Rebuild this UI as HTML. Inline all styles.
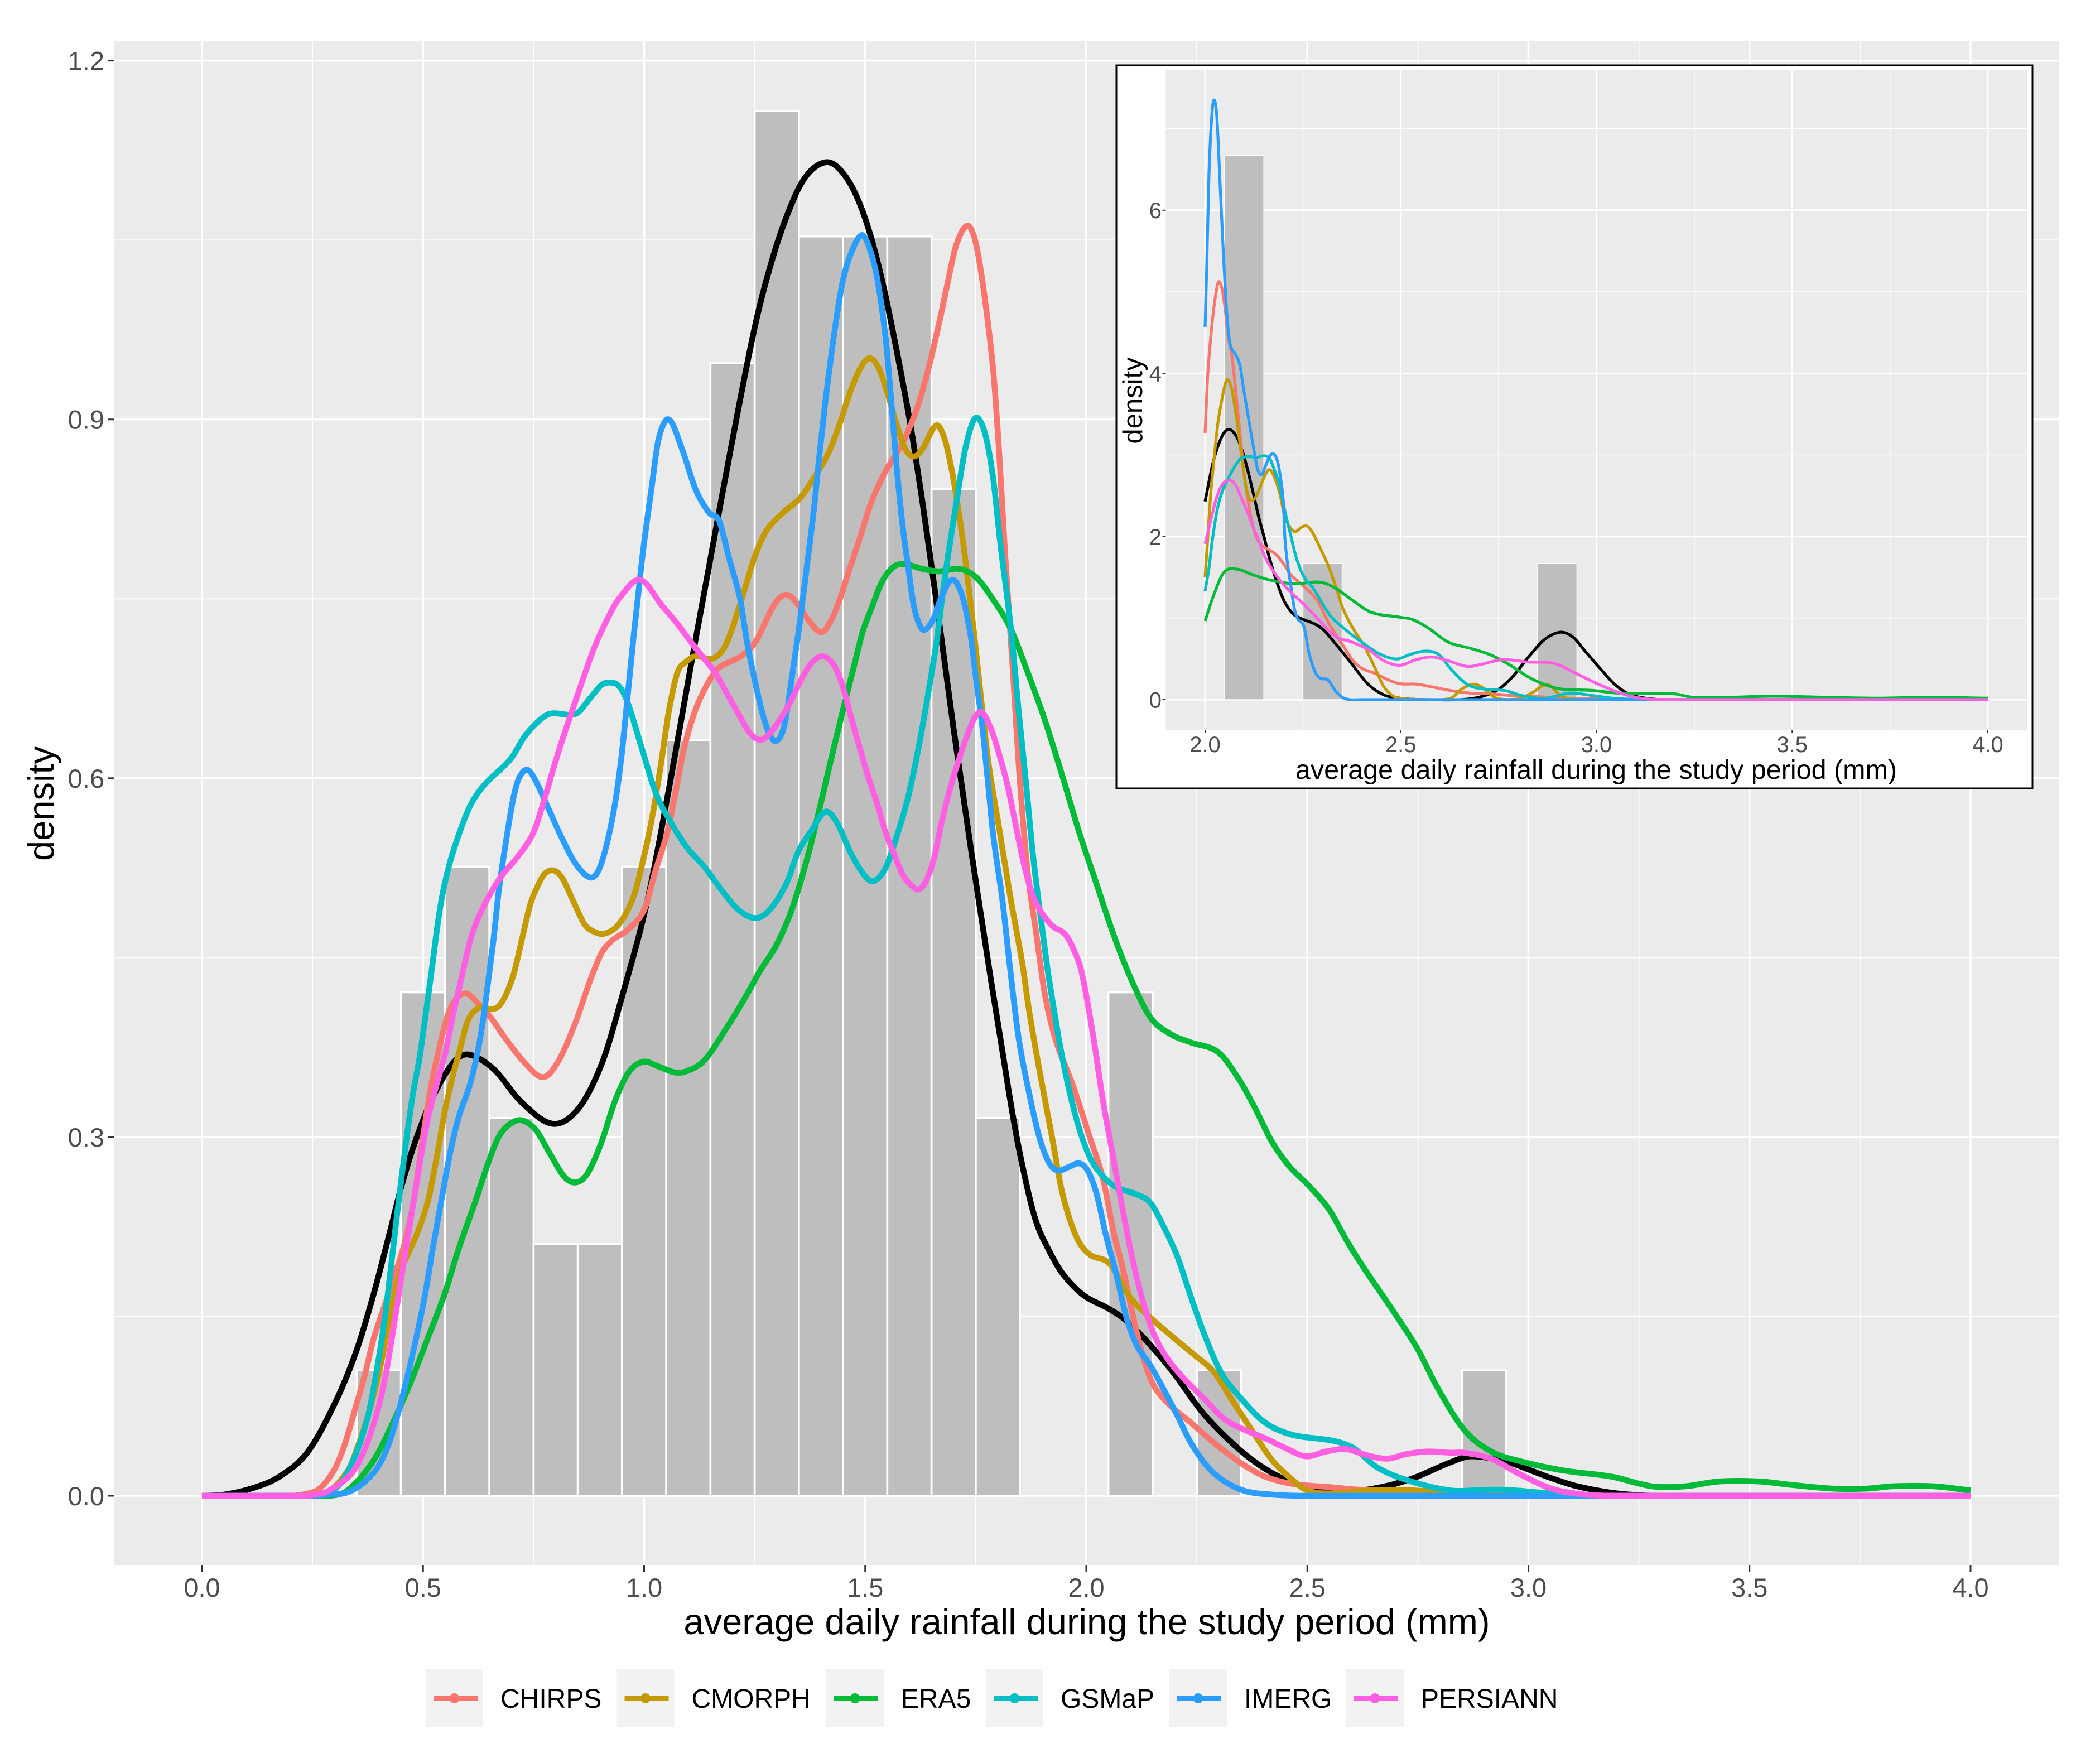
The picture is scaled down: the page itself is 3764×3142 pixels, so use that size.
<!DOCTYPE html>
<html>
<head>
<meta charset="utf-8">
<title>Density of average daily rainfall</title>
<style>
html,body{margin:0;padding:0;background:#fff;}
svg{display:block;}
text{font-family:"Liberation Sans",Arial,sans-serif;}
</style>
</head>
<body>
<svg id="chart" xmlns="http://www.w3.org/2000/svg" width="3764" height="3142" viewBox="0 0 3764 3142">
  <rect x="0" y="0" width="3764" height="3142" fill="#fff"/>
  <g id="main-plot"></g>
  <text x="1948" y="2929" font-size="65" text-anchor="middle" fill="#000">average daily rainfall during the study period (mm)</text>
  <text transform="translate(96,1440) rotate(-90)" font-size="65" text-anchor="middle" fill="#000">density</text>
  <rect x="2001" y="117" width="1642" height="1296" fill="#fff" stroke="#000" stroke-width="3"/>
  <g id="inset-plot"></g>
  <text x="2861" y="1396" font-size="48.5" text-anchor="middle" fill="#000">average daily rainfall during the study period (mm)</text>
  <text transform="translate(2047,718) rotate(-90)" font-size="49" text-anchor="middle" fill="#000">density</text>
  <g id="legend"></g>
</svg>
<script>
// ---------- shared categories ----------
const seriesNames = ['CHIRPS','CMORPH','ERA5','GSMaP','IMERG','PERSIANN'];

// ---------- main chart: histogram ----------
const mainBinCenters = [0.4,0.5,0.6,0.7,0.8,0.9,1.0,1.1,1.2,1.3,1.4,1.5,1.6,1.7,1.8,2.1,2.3,2.9];
const mainBinDensity = [0.105,0.421,0.526,0.316,0.2105,0.2105,0.526,0.632,0.947,1.158,1.053,1.053,1.053,0.842,0.316,0.421,0.105,0.105];
const mainXTickLabels = ['0.0','0.5','1.0','1.5','2.0','2.5','3.0','3.5','4.0'];
const mainYTickLabels = ['0.0','0.3','0.6','0.9','1.2'];
const mainXMinor = [0.25,0.75,1.25,1.75,2.25,2.75,3.25,3.75];
const mainYMinor = [0.15,0.45,0.75,1.05];

// ---------- main chart: density curves [rainfall, density] ----------
const mainAll = [[0,0],[0.05,0.001],[0.111,0.006],[0.175,0.016],[0.24,0.037],[0.304,0.08],[0.35,0.122],[0.387,0.167],[0.426,0.222],[0.452,0.26],[0.484,0.298],[0.523,0.334],[0.568,0.362],[0.602,0.369],[0.659,0.357],[0.723,0.329],[0.794,0.311],[0.852,0.324],[0.905,0.362],[0.949,0.416],[1.007,0.497],[1.059,0.597],[1.11,0.703],[1.178,0.84],[1.249,0.975],[1.294,1.039],[1.339,1.085],[1.372,1.106],[1.41,1.115],[1.44,1.11],[1.475,1.091],[1.507,1.06],[1.539,1.015],[1.571,0.958],[1.603,0.894],[1.629,0.832],[1.652,0.772],[1.674,0.713],[1.7,0.641],[1.739,0.541],[1.765,0.478],[1.785,0.43],[1.809,0.375],[1.832,0.322],[1.855,0.277],[1.885,0.231],[1.916,0.205],[1.946,0.186],[1.993,0.168],[2.053,0.156],[2.092,0.146],[2.145,0.126],[2.199,0.102],[2.26,0.071],[2.313,0.05],[2.375,0.03],[2.436,0.016],[2.505,0.006],[2.566,0.003],[2.65,0.006],[2.734,0.014],[2.824,0.028],[2.87,0.033],[2.95,0.0285],[3,0.022],[3.05,0.015],[3.11,0.008],[3.2,0.002],[3.3,0],[4,0]];
const mainChirps = [[0,0],[0.2,0],[0.24,0.002],[0.266,0.006],[0.298,0.021],[0.323,0.043],[0.349,0.076],[0.369,0.102],[0.388,0.131],[0.414,0.16],[0.439,0.188],[0.459,0.212],[0.478,0.245],[0.497,0.293],[0.517,0.34],[0.537,0.375],[0.556,0.402],[0.576,0.416],[0.598,0.42],[0.621,0.413],[0.653,0.4],[0.685,0.383],[0.73,0.362],[0.772,0.35],[0.807,0.364],[0.846,0.397],[0.878,0.431],[0.904,0.454],[0.93,0.465],[0.962,0.473],[1,0.49],[1.026,0.523],[1.052,0.554],[1.071,0.588],[1.091,0.626],[1.116,0.657],[1.142,0.678],[1.168,0.692],[1.219,0.702],[1.252,0.714],[1.288,0.741],[1.307,0.751],[1.327,0.753],[1.346,0.746],[1.372,0.732],[1.401,0.722],[1.423,0.732],[1.442,0.749],[1.462,0.772],[1.488,0.801],[1.513,0.83],[1.545,0.856],[1.584,0.88],[1.616,0.908],[1.642,0.941],[1.668,0.982],[1.687,1.015],[1.706,1.046],[1.732,1.062],[1.751,1.046],[1.771,1],[1.79,0.939],[1.803,0.872],[1.816,0.79],[1.835,0.684],[1.848,0.607],[1.867,0.523],[1.887,0.47],[1.906,0.42],[1.931,0.381],[1.969,0.344],[2.007,0.301],[2.038,0.265],[2.061,0.222],[2.084,0.188],[2.114,0.137],[2.145,0.098],[2.183,0.078],[2.237,0.061],[2.29,0.044],[2.351,0.027],[2.405,0.016],[2.466,0.01],[2.542,0.0075],[2.62,0.005],[2.733,0.003],[2.824,0.002],[3,0.001],[3.1,0],[4,0]];
const mainCmorph = [[0,0],[0.23,0],[0.28,0.002],[0.33,0.021],[0.356,0.045],[0.381,0.074],[0.407,0.114],[0.427,0.155],[0.452,0.19],[0.484,0.217],[0.51,0.245],[0.53,0.281],[0.549,0.321],[0.568,0.352],[0.582,0.371],[0.601,0.397],[0.627,0.408],[0.659,0.407],[0.679,0.413],[0.704,0.435],[0.724,0.466],[0.743,0.495],[0.762,0.512],[0.775,0.52],[0.794,0.523],[0.814,0.517],[0.84,0.497],[0.865,0.478],[0.885,0.472],[0.91,0.47],[0.943,0.478],[0.975,0.5],[1,0.535],[1.02,0.571],[1.039,0.614],[1.055,0.654],[1.075,0.688],[1.094,0.697],[1.116,0.702],[1.155,0.7],[1.181,0.709],[1.2,0.726],[1.23,0.761],[1.249,0.784],[1.275,0.806],[1.314,0.822],[1.352,0.834],[1.384,0.851],[1.417,0.872],[1.442,0.896],[1.468,0.925],[1.494,0.946],[1.513,0.951],[1.533,0.941],[1.552,0.92],[1.571,0.896],[1.591,0.875],[1.61,0.869],[1.629,0.875],[1.661,0.895],[1.681,0.882],[1.7,0.849],[1.72,0.801],[1.745,0.725],[1.777,0.618],[1.803,0.558],[1.829,0.499],[1.855,0.446],[1.871,0.405],[1.893,0.358],[1.923,0.299],[1.946,0.253],[1.977,0.217],[2.007,0.202],[2.053,0.194],[2.099,0.166],[2.145,0.149],[2.198,0.132],[2.244,0.118],[2.29,0.103],[2.328,0.081],[2.374,0.055],[2.42,0.03],[2.458,0.016],[2.497,0.005],[2.542,0.002],[2.62,0.004],[2.695,0.005],[2.771,0.004],[2.85,0.003],[2.92,0.004],[3,0.001],[3.05,0],[4,0]];
const mainEra5 = [[0,0],[0.25,0],[0.317,0.002],[0.356,0.014],[0.394,0.033],[0.433,0.062],[0.472,0.095],[0.51,0.131],[0.549,0.169],[0.581,0.207],[0.62,0.248],[0.645,0.276],[0.671,0.3],[0.697,0.311],[0.723,0.314],[0.755,0.306],[0.787,0.286],[0.819,0.267],[0.845,0.262],[0.871,0.269],[0.903,0.295],[0.935,0.331],[0.967,0.355],[0.999,0.363],[1.032,0.359],[1.07,0.354],[1.096,0.355],[1.136,0.364],[1.181,0.388],[1.226,0.415],[1.264,0.44],[1.297,0.459],[1.329,0.485],[1.352,0.511],[1.378,0.546],[1.404,0.586],[1.43,0.627],[1.455,0.665],[1.475,0.694],[1.494,0.722],[1.513,0.741],[1.539,0.765],[1.565,0.777],[1.591,0.779],[1.629,0.775],[1.668,0.773],[1.713,0.775],[1.751,0.768],[1.79,0.749],[1.829,0.725],[1.867,0.689],[1.906,0.649],[1.945,0.603],[1.983,0.556],[2.022,0.513],[2.061,0.47],[2.099,0.434],[2.145,0.4],[2.191,0.386],[2.237,0.379],[2.298,0.371],[2.344,0.349],[2.382,0.324],[2.42,0.296],[2.458,0.276],[2.504,0.259],[2.55,0.239],[2.588,0.214],[2.627,0.191],[2.695,0.154],[2.749,0.123],[2.795,0.09],[2.855,0.055],[2.916,0.037],[2.991,0.028],[3.082,0.021],[3.188,0.016],[3.279,0.008],[3.355,0.008],[3.431,0.012],[3.522,0.012],[3.598,0.009],[3.689,0.006],[3.765,0.006],[3.825,0.008],[3.916,0.008],[4,0.0045]];
const mainGsmap = [[0,0],[0.24,0],[0.285,0.003],[0.317,0.012],[0.349,0.036],[0.375,0.066],[0.394,0.102],[0.414,0.15],[0.427,0.19],[0.439,0.228],[0.452,0.268],[0.465,0.305],[0.478,0.338],[0.492,0.366],[0.505,0.4],[0.518,0.435],[0.537,0.488],[0.556,0.523],[0.582,0.554],[0.608,0.578],[0.64,0.595],[0.698,0.616],[0.73,0.635],[0.762,0.648],[0.788,0.654],[0.846,0.654],[0.878,0.667],[0.904,0.678],[0.923,0.68],[0.943,0.677],[0.962,0.664],[0.994,0.626],[1.026,0.588],[1.059,0.564],[1.097,0.542],[1.136,0.526],[1.174,0.507],[1.213,0.49],[1.252,0.483],[1.284,0.49],[1.322,0.512],[1.348,0.538],[1.378,0.556],[1.41,0.572],[1.436,0.563],[1.468,0.537],[1.5,0.518],[1.52,0.514],[1.546,0.525],[1.571,0.551],[1.597,0.584],[1.623,0.63],[1.642,0.67],[1.661,0.713],[1.681,0.77],[1.706,0.83],[1.726,0.875],[1.745,0.899],[1.758,0.9],[1.774,0.884],[1.79,0.849],[1.806,0.795],[1.829,0.727],[1.848,0.653],[1.864,0.595],[1.88,0.534],[1.9,0.475],[1.915,0.434],[1.946,0.366],[1.977,0.316],[2.007,0.284],[2.038,0.267],[2.068,0.258],[2.114,0.252],[2.145,0.245],[2.175,0.225],[2.206,0.2],[2.237,0.166],[2.267,0.135],[2.305,0.103],[2.351,0.081],[2.405,0.061],[2.466,0.051],[2.558,0.046],[2.604,0.04],[2.657,0.024],[2.726,0.013],[2.824,0.0045],[2.9,0.005],[2.95,0.005],[3.05,0.002],[3.15,0],[4,0]];
const mainImerg = [[0,0],[0.24,0],[0.291,0.001],[0.33,0.003],[0.369,0.012],[0.401,0.026],[0.427,0.048],[0.452,0.081],[0.478,0.121],[0.504,0.167],[0.523,0.209],[0.542,0.248],[0.562,0.288],[0.581,0.317],[0.607,0.345],[0.627,0.378],[0.64,0.409],[0.659,0.464],[0.672,0.508],[0.691,0.555],[0.704,0.583],[0.717,0.6],[0.736,0.607],[0.756,0.597],[0.782,0.576],[0.814,0.55],[0.846,0.528],[0.878,0.517],[0.897,0.523],[0.917,0.547],[0.936,0.583],[0.949,0.619],[0.962,0.666],[0.975,0.714],[0.996,0.785],[1.018,0.846],[1.033,0.884],[1.056,0.9],[1.086,0.875],[1.117,0.841],[1.147,0.822],[1.17,0.815],[1.192,0.784],[1.217,0.75],[1.233,0.713],[1.249,0.684],[1.265,0.658],[1.281,0.639],[1.298,0.631],[1.317,0.644],[1.336,0.689],[1.352,0.73],[1.365,0.768],[1.384,0.825],[1.397,0.872],[1.41,0.915],[1.43,0.972],[1.449,1.015],[1.468,1.039],[1.491,1.054],[1.507,1.046],[1.526,1.02],[1.545,0.972],[1.558,0.92],[1.571,0.861],[1.584,0.813],[1.597,0.777],[1.61,0.744],[1.626,0.726],[1.639,0.725],[1.655,0.734],[1.674,0.753],[1.697,0.766],[1.719,0.753],[1.739,0.718],[1.751,0.682],[1.764,0.646],[1.777,0.599],[1.79,0.551],[1.81,0.499],[1.828,0.44],[1.847,0.383],[1.87,0.338],[1.893,0.301],[1.915,0.279],[1.935,0.272],[1.961,0.275],[1.984,0.278],[2.003,0.272],[2.023,0.253],[2.045,0.217],[2.068,0.185],[2.091,0.149],[2.114,0.126],[2.145,0.109],[2.175,0.089],[2.206,0.067],[2.237,0.044],[2.275,0.024],[2.313,0.012],[2.359,0.004],[2.42,0.001],[2.5,0],[4,0]];
const mainPersiann = [[0,0],[0.208,0],[0.272,0.002],[0.311,0.01],[0.343,0.021],[0.369,0.04],[0.394,0.067],[0.414,0.098],[0.433,0.14],[0.452,0.185],[0.472,0.231],[0.491,0.274],[0.51,0.314],[0.53,0.343],[0.55,0.37],[0.569,0.404],[0.588,0.435],[0.608,0.466],[0.627,0.485],[0.653,0.504],[0.679,0.519],[0.711,0.533],[0.749,0.554],[0.775,0.583],[0.794,0.607],[0.814,0.631],[0.833,0.652],[0.859,0.68],[0.885,0.707],[0.91,0.728],[0.943,0.75],[0.991,0.766],[1.041,0.744],[1.071,0.731],[1.116,0.709],[1.161,0.688],[1.187,0.671],[1.213,0.654],[1.239,0.638],[1.264,0.632],[1.29,0.64],[1.327,0.661],[1.352,0.68],[1.378,0.696],[1.404,0.702],[1.43,0.694],[1.449,0.677],[1.468,0.651],[1.488,0.625],[1.507,0.601],[1.526,0.58],[1.545,0.556],[1.565,0.537],[1.584,0.52],[1.603,0.511],[1.62,0.507],[1.636,0.513],[1.655,0.532],[1.674,0.565],[1.694,0.594],[1.713,0.617],[1.732,0.637],[1.748,0.651],[1.764,0.655],[1.784,0.642],[1.803,0.62],[1.822,0.594],[1.842,0.558],[1.861,0.525],[1.88,0.501],[1.9,0.487],[1.925,0.476],[1.951,0.47],[1.97,0.458],[1.99,0.437],[2.015,0.386],[2.038,0.33],[2.061,0.283],[2.084,0.236],[2.107,0.194],[2.13,0.16],[2.153,0.135],[2.183,0.115],[2.221,0.098],[2.267,0.081],[2.313,0.064],[2.359,0.055],[2.405,0.048],[2.45,0.04],[2.497,0.033],[2.542,0.037],[2.588,0.039],[2.634,0.034],[2.68,0.031],[2.726,0.035],[2.771,0.037],[2.824,0.036],[2.855,0.036],[2.916,0.031],[2.976,0.019],[3.052,0.006],[3.128,0.001],[3.2,0],[4,0]];

// ---------- inset chart ----------
const insetBinCenters = [2.1,2.3,2.9];
const insetBinDensity = [6.67,1.67,1.67];
const insetXTickLabels = ['2.0','2.5','3.0','3.5','4.0'];
const insetYTickLabels = ['0','2','4','6'];
const insetXMinor = [2.25,2.75,3.25,3.75];
const insetYMinor = [1,3,5,7];

const insetAll = [[2,2.43],[2.019,2.88],[2.033,3.11],[2.048,3.27],[2.064,3.31],[2.081,3.22],[2.095,3.05],[2.109,2.81],[2.124,2.51],[2.138,2.22],[2.152,1.97],[2.162,1.78],[2.176,1.55],[2.19,1.35],[2.204,1.19],[2.228,1.04],[2.294,0.889],[2.335,0.675],[2.376,0.43],[2.417,0.186],[2.457,0.058],[2.498,0.018],[2.564,0],[2.678,0.01],[2.744,0.11],[2.785,0.278],[2.826,0.52],[2.867,0.736],[2.908,0.827],[2.94,0.766],[2.973,0.583],[3.006,0.4],[3.047,0.186],[3.088,0.058],[3.15,0.005],[3.2,0],[4,0]];
const insetChirps = [[2,3.27],[2.007,4],[2.018,4.62],[2.026,4.93],[2.034,5.12],[2.043,5.04],[2.051,4.8],[2.059,4.45],[2.069,4.2],[2.078,3.79],[2.09,3.22],[2.1,2.76],[2.114,2.31],[2.128,2.03],[2.143,1.9],[2.162,1.84],[2.181,1.78],[2.2,1.67],[2.219,1.53],[2.247,1.41],[2.286,1.22],[2.318,0.92],[2.351,0.675],[2.376,0.49],[2.4,0.385],[2.433,0.324],[2.466,0.247],[2.498,0.195],[2.539,0.19],[2.58,0.156],[2.629,0.11],[2.678,0.08],[2.727,0.073],[2.785,0.05],[2.842,0.04],[2.908,0.02],[2.99,0.012],[3.1,0.003],[3.2,0],[4,0]];
const insetCmorph = [[2,1.5],[2.014,2.5],[2.024,3],[2.033,3.4],[2.043,3.68],[2.052,3.88],[2.059,3.92],[2.069,3.79],[2.081,3.43],[2.095,2.92],[2.105,2.6],[2.114,2.46],[2.124,2.45],[2.135,2.54],[2.152,2.74],[2.164,2.82],[2.176,2.74],[2.19,2.54],[2.204,2.24],[2.219,2.1],[2.231,2.06],[2.245,2.11],[2.259,2.13],[2.273,2.06],[2.295,1.85],[2.314,1.65],[2.333,1.4],[2.351,1.13],[2.376,0.889],[2.408,0.644],[2.433,0.4],[2.457,0.156],[2.482,0.04],[2.507,0.01],[2.58,0],[2.629,0.02],[2.654,0.125],[2.687,0.19],[2.711,0.14],[2.744,0.02],[2.801,0.01],[2.834,0.08],[2.875,0.186],[2.908,0.05],[2.94,0.005],[3,0],[4,0]];
const insetEra5 = [[2,0.965],[2.02,1.255],[2.048,1.56],[2.081,1.6],[2.122,1.53],[2.171,1.46],[2.228,1.42],[2.294,1.44],[2.335,1.36],[2.376,1.22],[2.425,1.07],[2.498,1.01],[2.531,0.98],[2.572,0.873],[2.621,0.705],[2.678,0.629],[2.727,0.553],[2.777,0.43],[2.826,0.278],[2.867,0.186],[2.908,0.131],[2.99,0.113],[3.055,0.08],[3.197,0.072],[3.244,0.03],[3.308,0.024],[3.45,0.042],[3.578,0.03],[3.72,0.018],[3.85,0.03],[4,0.018]];
const insetGsmap = [[2,1.33],[2.01,1.62],[2.019,1.97],[2.029,2.28],[2.038,2.47],[2.048,2.6],[2.062,2.74],[2.076,2.86],[2.09,2.95],[2.109,2.98],[2.133,2.97],[2.152,2.99],[2.166,2.95],[2.176,2.83],[2.19,2.63],[2.204,2.31],[2.219,2.01],[2.233,1.74],[2.252,1.51],[2.277,1.36],[2.318,1.04],[2.351,0.889],[2.4,0.705],[2.449,0.553],[2.49,0.498],[2.523,0.553],[2.564,0.595],[2.597,0.553],[2.629,0.37],[2.67,0.186],[2.711,0.131],[2.768,0.11],[2.809,0.05],[2.867,0.015],[2.932,0.08],[2.99,0.05],[3.047,0.015],[3.1,0.005],[3.2,0],[4,0]];
const insetImerg = [[2,4.57],[2.004,5.27],[2.01,6.45],[2.017,7.15],[2.023,7.35],[2.03,7.15],[2.037,6.45],[2.046,5.53],[2.056,4.7],[2.064,4.36],[2.078,4.23],[2.089,4.1],[2.097,3.85],[2.109,3.5],[2.119,3.22],[2.128,2.97],[2.135,2.81],[2.145,2.76],[2.154,2.86],[2.166,2.99],[2.176,3.01],[2.185,2.92],[2.192,2.74],[2.2,2.42],[2.204,1.97],[2.212,1.62],[2.219,1.4],[2.228,1.12],[2.236,0.995],[2.253,0.889],[2.265,0.583],[2.281,0.34],[2.294,0.263],[2.314,0.241],[2.335,0.095],[2.359,0.01],[2.4,0],[4,0]];
const insetPersiann = [[2,1.91],[2.014,2.19],[2.029,2.47],[2.043,2.63],[2.062,2.69],[2.078,2.63],[2.095,2.45],[2.109,2.29],[2.124,2.1],[2.138,1.94],[2.152,1.76],[2.171,1.6],[2.195,1.44],[2.223,1.3],[2.252,1.17],[2.276,1.05],[2.335,0.766],[2.367,0.72],[2.417,0.614],[2.457,0.476],[2.498,0.421],[2.539,0.49],[2.58,0.522],[2.621,0.476],[2.67,0.406],[2.703,0.43],[2.76,0.49],[2.826,0.461],[2.891,0.446],[2.94,0.339],[3.006,0.186],[3.071,0.064],[3.127,0.01],[3.2,0],[4,0]];

// ---------- colours ----------
const seriesColors = ['#F8766D','#C49A00','#00BA38','#00BFC4','#2B9DFF','#FF5FE0'];

// ---------- axis functions ----------
const mainXScale = v => 362 + v * 792.5;
const mainYScale = v => 2681 - v * 2143.6;
const insetXScale = v => 2160 + (v - 2) * 701.5;
const insetYScale = v => 1254 - v * 146.2;

const NS = 'http://www.w3.org/2000/svg';
function mk(tag, attrs, parent){
  const el = document.createElementNS(NS, tag);
  for (const k in attrs) el.setAttribute(k, attrs[k]);
  parent.appendChild(el);
  return el;
}
function curvePath(points, xs, ys){
  const px = points.map(p => xs(p[0]));
  const py = points.map(p => ys(p[1]));
  const n = px.length;
  const m = new Array(n);
  for (let i = 0; i < n; i++){
    if (i === 0) m[i] = (py[1]-py[0])/(px[1]-px[0]);
    else if (i === n-1) m[i] = (py[n-1]-py[n-2])/(px[n-1]-px[n-2]);
    else {
      m[i] = (py[i+1]-py[i-1])/(px[i+1]-px[i-1]);
      // keep a flat tail flat: no overshoot past a zero-density stretch
      if (points[i][1] === 0) m[i] = 0;
    }
  }
  let d = 'M' + px[0].toFixed(1) + ' ' + py[0].toFixed(1);
  for (let i = 0; i < n-1; i++){
    const h = (px[i+1]-px[i])/3;
    d += 'C' + (px[i]+h).toFixed(1) + ' ' + (py[i]+m[i]*h).toFixed(1) + ' ' +
         (px[i+1]-h).toFixed(1) + ' ' + (py[i+1]-m[i+1]*h).toFixed(1) + ' ' +
         px[i+1].toFixed(1) + ' ' + py[i+1].toFixed(1);
  }
  return d;
}
function drawPlot(root, o){
  const panel = mk('rect', {x:o.left, y:o.top, width:o.right-o.left, height:o.bottom-o.top, fill:'#EBEBEB'}, root);
  
  

  o.xMinor.forEach(v => {
    const l = mk('line', {x1:o.xs(v), x2:o.xs(v), y1:o.top, y2:o.bottom, stroke:'#fff', 'stroke-width':o.minorW}, root);
    
    
  });
  o.yMinor.forEach(v => {
    const l = mk('line', {x1:o.left, x2:o.right, y1:o.ys(v), y2:o.ys(v), stroke:'#fff', 'stroke-width':o.minorW}, root);
    
    
  });
  o.xTicks.forEach(t => {
    const v = parseFloat(t);
    const l = mk('line', {x1:o.xs(v), x2:o.xs(v), y1:o.top, y2:o.bottom, stroke:'#fff', 'stroke-width':o.majorW}, root);
    
    
    const tk = mk('line', {x1:o.xs(v), x2:o.xs(v), y1:o.bottom, y2:o.bottom+o.tickLen, stroke:'#333', 'stroke-width':o.tickW}, root);
    
    
    const tx = mk('text', {x:o.xs(v), y:o.xLabelY, 'font-size':o.tickFont, 'text-anchor':'middle', fill:'#4D4D4D'}, root);
    tx.textContent = t;
    
    
  });
  o.yTicks.forEach(t => {
    const v = parseFloat(t);
    const l = mk('line', {x1:o.left, x2:o.right, y1:o.ys(v), y2:o.ys(v), stroke:'#fff', 'stroke-width':o.majorW}, root);
    
    
    const tk = mk('line', {x1:o.left-o.tickLen, x2:o.left, y1:o.ys(v), y2:o.ys(v), stroke:'#333', 'stroke-width':o.tickW}, root);
    
    
    const tx = mk('text', {x:o.yLabelX, y:o.ys(v)+o.tickFont*0.36, 'font-size':o.tickFont, 'text-anchor':'end', fill:'#4D4D4D'}, root);
    tx.textContent = t;
    
    
  });
  o.binCenters.forEach((c, i) => {
    const x0 = o.xs(c - 0.05), x1 = o.xs(c + 0.05);
    const y0 = o.ys(o.binDensity[i]), y1 = o.ys(0);
    const b = mk('rect', {x:x0, y:y0, width:x1-x0, height:y1-y0, fill:'#BEBEBE', stroke:'#fff', 'stroke-width':o.barStroke}, root);
    
    
  });

  const allLine = mk('path', {d:curvePath(o.all, o.xs, o.ys), fill:'none', stroke:'#000', 'stroke-width':o.lineW, 'stroke-linejoin':'round'}, root);
  
  
  o.series.forEach((pts, i) => {
    const p = mk('path', {d:curvePath(pts, o.xs, o.ys), fill:'none', stroke:seriesColors[i], 'stroke-width':o.lineW, 'stroke-linejoin':'round'}, root);
    
    
  });
}

drawPlot(document.getElementById('main-plot'), {
  left:205, right:3691, top:73, bottom:2805,
  xs:mainXScale, ys:mainYScale,
  xTicks:mainXTickLabels, yTicks:mainYTickLabels, xMinor:mainXMinor, yMinor:mainYMinor,
  binCenters:mainBinCenters, binDensity:mainBinDensity,
  all:mainAll, series:[mainChirps,mainCmorph,mainEra5,mainGsmap,mainImerg,mainPersiann],
  majorW:3.6, minorW:1.8, barStroke:3.6, lineW:10.5, tickLen:12, tickW:3, tickFont:47, xLabelY:2862, yLabelX:187
});
drawPlot(document.getElementById('inset-plot'), {
  left:2089.5, right:3633, top:126, bottom:1308,
  xs:insetXScale, ys:insetYScale,
  xTicks:insetXTickLabels, yTicks:insetYTickLabels, xMinor:insetXMinor, yMinor:insetYMinor,
  binCenters:insetBinCenters, binDensity:insetBinDensity,
  all:insetAll, series:[insetChirps,insetCmorph,insetEra5,insetGsmap,insetImerg,insetPersiann],
  majorW:3, minorW:1.5, barStroke:1.5, lineW:5.2, tickLen:6, tickW:2, tickFont:40, xLabelY:1348, yLabelX:2082
});

// ---------- legend ----------
const legendKeyLefts = [763,1105.5,1481,1767,2096,2413];
const legendRoot = document.getElementById('legend');
seriesNames.forEach((name, i) => {
  const kx = legendKeyLefts[i];
  const bg = mk('rect', {x:kx, y:2992, width:103, height:103, fill:'#F2F2F2'}, legendRoot);
  
  
  const ln = mk('line', {x1:kx+14, x2:kx+93, y1:3044, y2:3044, stroke:seriesColors[i], 'stroke-width':8}, legendRoot);
  
  
  const pt = mk('circle', {cx:kx+51.5, cy:3044, r:9, fill:seriesColors[i]}, legendRoot);
  
  
  const tx = mk('text', {x:kx+134, y:3061, 'font-size':48, fill:'#000'}, legendRoot);
  tx.textContent = name;
  
  
});
</script>
</body>
</html>
